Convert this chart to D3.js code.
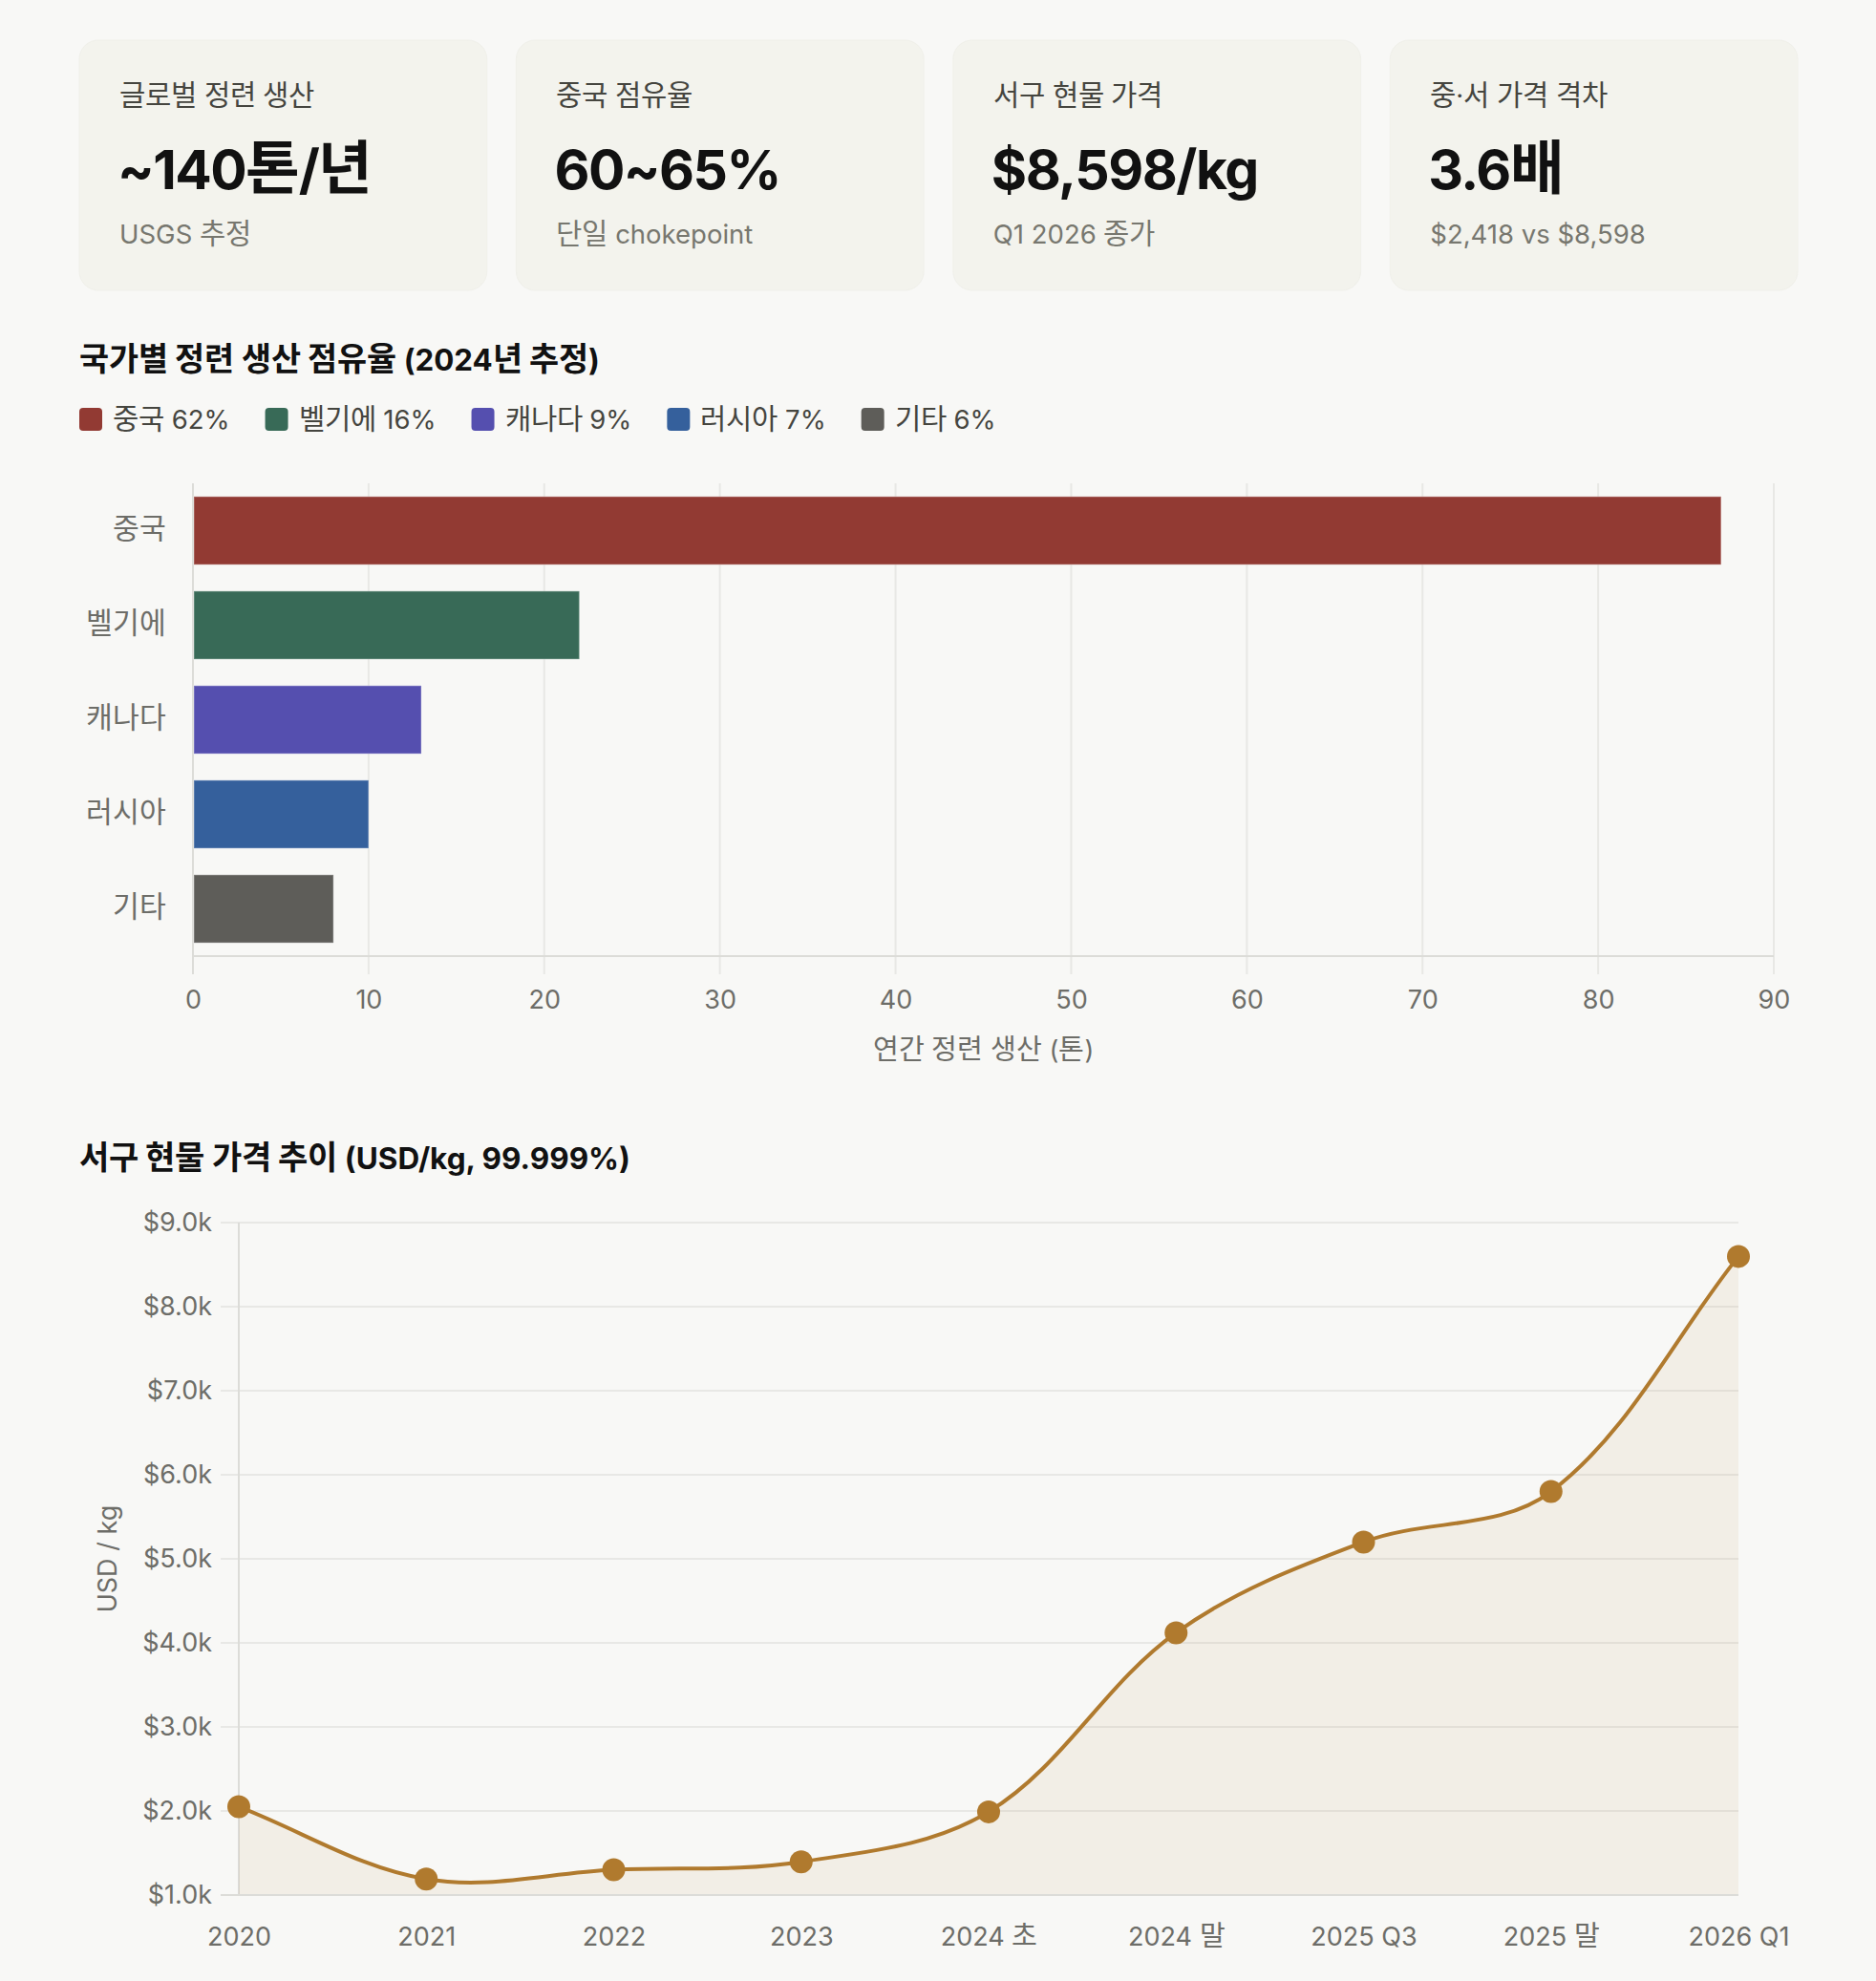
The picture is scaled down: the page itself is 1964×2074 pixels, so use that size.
<!DOCTYPE html>
<html lang="ko">
<head>
<meta charset="utf-8">
<script src="https://cdn.jsdelivr.net/npm/d3@7/dist/d3.min.js"></script>
<style>
  @font-face {
    font-family: "KRX";
    src: local("Noto Sans CJK KR"), local("Noto Sans CJK KR Regular"), local("NotoSansCJKkr-Regular");
    font-weight: 400;
    size-adjust: 108%;
    unicode-range: U+1100-11FF, U+3130-318F, U+AC00-D7AF;
  }
  @font-face {
    font-family: "KRX";
    src: local("Noto Sans CJK KR Bold"), local("NotoSansCJKkr-Bold");
    font-weight: 700;
    size-adjust: 108%;
    unicode-range: U+1100-11FF, U+3130-318F, U+AC00-D7AF;
  }
  html, body { margin: 0; padding: 0; background: #f8f8f6; }
  svg { display: block; }
  text { font-family: Inter, KRX, "Noto Sans CJK KR", "Noto Sans", sans-serif; }
</style>
</head>
<body>
<svg id="chart" width="1964" height="2074"></svg>
<script>
// ---------- DATA ----------
const kpiLabels = ["글로벌 정련 생산", "중국 점유율", "서구 현물 가격", "중·서 가격 격차"];
const kpiValues = ["~140톤/년", "60~65%", "$8,598/kg", "3.6배"];
const kpiSubs   = ["USGS 추정", "단일 chokepoint", "Q1 2026 종가", "$2,418 vs $8,598"];

const countries  = ["중국", "벨기에", "캐나다", "러시아", "기타"];
const production = [87, 22, 13, 10, 8];
const shares     = [62, 16, 9, 7, 6];
const barColors  = ["#923a33", "#386a57", "#554faf", "#35609c", "#5e5d59"];
const barTicks   = [0, 10, 20, 30, 40, 50, 60, 70, 80, 90];

const priceLabels = ["2020", "2021", "2022", "2023", "2024 초", "2024 말", "2025 Q3", "2025 말", "2026 Q1"];
const prices      = [2050, 1190, 1300, 1395, 1990, 4120, 5200, 5800, 8598];
const priceTicks  = [1000, 2000, 3000, 4000, 5000, 6000, 7000, 8000, 9000];

// ---------- SETUP ----------
const FONT = 'Inter, KRX, "Noto Sans CJK KR", sans-serif';
const svg = d3.select("#chart");
svg.append("rect").attr("width", 1964).attr("height", 2074).attr("fill", "#f8f8f6");

const GRID = "#e8e8e5", AXIS = "#dcdcd8", TICK = "#6d6d68";

function draw() {
// ---------- KPI CARDS ----------
const cardX = d3.scaleBand().domain(d3.range(4)).range([83, 1882]).paddingInner(0.067);
const cards = svg.append("g").selectAll("g").data(kpiLabels).join("g")
  .attr("transform", (d, i) => `translate(${cardX(i)},42)`);
cards.append("rect").attr("width", cardX.bandwidth()).attr("height", 262).attr("rx", 20)
  .attr("fill", "#f3f3ed").attr("stroke", "#f0f0ea").attr("stroke-width", 1);
cards.append("text").attr("x", 42).attr("y", 68).attr("font-size", 27.5).attr("fill", "#45453f")
  .text(d => d);
cards.append("text").attr("x", 40).attr("y", 156).attr("font-size", 57).attr("font-weight", 700)
  .attr("fill", "#111").attr("letter-spacing", -1.5).text((d, i) => kpiValues[i]);
cards.append("text").attr("x", 42).attr("y", 213).attr("font-size", 27.5).attr("fill", "#77776f")
  .text((d, i) => kpiSubs[i]);

// ---------- BAR CHART ----------
svg.append("text").attr("x", 83).attr("y", 388).attr("font-size", 31.3).attr("font-weight", 700)
  .attr("fill", "#111").text("국가별 정련 생산 점유율 (2024년 추정)");

// legend
const legend = svg.append("g");
let lx = 83;
countries.forEach((c, i) => {
  const g = legend.append("g").attr("transform", `translate(${lx},0)`);
  g.append("rect").attr("x", 0).attr("y", 427).attr("width", 24).attr("height", 24).attr("rx", 4)
    .attr("fill", barColors[i]);
  const t = g.append("text").attr("x", 35).attr("y", 449).attr("font-size", 27.5).attr("fill", "#45453f")
    .text(`${c} ${shares[i]}%`);
  lx += 35 + t.node().getComputedTextLength() + 37;
});

const bx = d3.scaleLinear().domain([0, 90]).range([202, 1857]);
const by = d3.scaleBand().domain(countries).range([506, 1001]).paddingInner(0.28).paddingOuter(0.14);

const barG = svg.append("g");
barG.append("g").selectAll("line").data(barTicks).join("line")
  .attr("x1", d => bx(d)).attr("x2", d => bx(d)).attr("y1", 506).attr("y2", 1020)
  .attr("stroke", GRID).attr("stroke-width", 2);
barG.append("line").attr("x1", 202).attr("x2", 202).attr("y1", 506).attr("y2", 1020)
  .attr("stroke", AXIS).attr("stroke-width", 2);
barG.append("line").attr("x1", 202).attr("x2", 1857).attr("y1", 1001).attr("y2", 1001)
  .attr("stroke", AXIS).attr("stroke-width", 2);

barG.append("g").selectAll("rect").data(production).join("rect")
  .attr("x", bx(0) + 1).attr("y", (d, i) => by(countries[i]))
  .attr("width", d => bx(d) - bx(0) - 1).attr("height", by.bandwidth())
  .attr("fill", (d, i) => barColors[i])
  .attr("stroke", "rgba(255,255,255,0.25)").attr("stroke-width", 1.5);

const xAxisBar = d3.axisBottom(bx).tickValues(barTicks).tickSize(0).tickPadding(0);
const xg = barG.append("g").attr("transform", "translate(0,1056)").call(xAxisBar);
xg.select(".domain").remove();
xg.selectAll("text").attr("font-size", 27).attr("fill", TICK).attr("dy", 0).style("font-family", FONT);

const yAxisBar = d3.axisLeft(by).tickSize(0).tickPadding(0);
const yg = barG.append("g").attr("transform", "translate(174,0)").call(yAxisBar);
yg.select(".domain").remove();
yg.selectAll("text").attr("font-size", 28).attr("fill", TICK).style("font-family", FONT);

barG.append("text").attr("x", (bx(0) + bx(90)) / 2).attr("y", 1109).attr("text-anchor", "middle")
  .attr("font-size", 27).attr("fill", TICK).text("연간 정련 생산 (톤)");

// ---------- LINE CHART ----------
svg.append("text").attr("x", 83).attr("y", 1224).attr("font-size", 31.5).attr("font-weight", 700)
  .attr("fill", "#111").text("서구 현물 가격 추이 (USD/kg, 99.999%)");

const lx0 = 250, lx1 = 1820, ly0 = 1280, ly1 = 1984;
const px = d3.scalePoint().domain(priceLabels).range([lx0, lx1]);
const py = d3.scaleLinear().domain([1000, 9000]).range([ly1, ly0]);

const lineG = svg.append("g");
lineG.append("g").selectAll("line").data(priceTicks).join("line")
  .attr("x1", 231).attr("x2", lx1).attr("y1", d => py(d)).attr("y2", d => py(d))
  .attr("stroke", d => d === 1000 ? AXIS : GRID).attr("stroke-width", 2);
lineG.append("line").attr("x1", lx0).attr("x2", lx0).attr("y1", ly0).attr("y2", ly1)
  .attr("stroke", AXIS).attr("stroke-width", 2);

// Chart.js-like spline
const pts = prices.map((v, i) => ({ x: px(priceLabels[i]), y: py(v) }));
const tension = 0.35;
const ctrl = pts.map((p, i) => {
  const p0 = pts[i - 1] || p, p2 = pts[i + 1] || p;
  const d01 = Math.hypot(p.x - p0.x, p.y - p0.y), d12 = Math.hypot(p2.x - p.x, p2.y - p.y);
  let s01 = d01 / (d01 + d12), s12 = d12 / (d01 + d12);
  if (!isFinite(s01)) s01 = 0; if (!isFinite(s12)) s12 = 0;
  const fa = tension * s01, fb = tension * s12;
  const clampY = y => Math.max(ly0, Math.min(ly1, y));
  const clampX = x => Math.max(lx0, Math.min(lx1, x));
  return {
    prev: { x: clampX(p.x - fa * (p2.x - p0.x)), y: clampY(p.y - fa * (p2.y - p0.y)) },
    next: { x: clampX(p.x + fb * (p2.x - p0.x)), y: clampY(p.y + fb * (p2.y - p0.y)) }
  };
});
const path = d3.path();
path.moveTo(pts[0].x, pts[0].y);
for (let i = 1; i < pts.length; i++) {
  path.bezierCurveTo(ctrl[i - 1].next.x, ctrl[i - 1].next.y, ctrl[i].prev.x, ctrl[i].prev.y, pts[i].x, pts[i].y);
}
const lineD = path.toString();
const areaD = lineD + `L${pts[pts.length - 1].x},${py(1000)}L${pts[0].x},${py(1000)}Z`;

lineG.append("path").attr("d", areaD).attr("fill", "rgba(176,122,46,0.08)");
lineG.append("line").attr("x1", 231).attr("x2", lx1).attr("y1", py(1000)).attr("y2", py(1000))
  .attr("stroke", AXIS).attr("stroke-width", 2);
lineG.append("path").attr("d", lineD).attr("fill", "none").attr("stroke", "#b07a2e").attr("stroke-width", 4);
lineG.append("g").selectAll("circle").data(prices).join("circle")
  .attr("cx", (d, i) => px(priceLabels[i])).attr("cy", d => py(d)).attr("r", 12)
  .attr("fill", "#b07a2e");

const yAxisLine = d3.axisLeft(py).tickValues(priceTicks).tickSize(0).tickPadding(0)
  .tickFormat(d => "$" + (d / 1000).toFixed(1) + "k");
const ylg = lineG.append("g").attr("transform", "translate(222,0)").call(yAxisLine);
ylg.select(".domain").remove();
ylg.selectAll("text").attr("font-size", 27).attr("fill", TICK).style("font-family", FONT);

const xAxisLine = d3.axisBottom(px).tickSize(0).tickPadding(0);
const xlg = lineG.append("g").attr("transform", "translate(0,2037)").call(xAxisLine);
xlg.select(".domain").remove();
xlg.selectAll("text").attr("font-size", 27).attr("fill", TICK).attr("dy", 0).style("font-family", FONT);

lineG.append("text").attr("transform", `translate(122,${(ly0 + ly1) / 2}) rotate(-90)`)
  .attr("text-anchor", "middle").attr("font-size", 27).attr("fill", TICK).text("USD / kg");
}

if (document.fonts && document.fonts.load) {
  Promise.all([
    document.fonts.load('400 27px KRX', '가'),
    document.fonts.load('700 27px KRX', '가'),
    document.fonts.load('400 27px Inter', 'a'),
    document.fonts.load('700 27px Inter', 'a')
  ]).then(draw, draw);
} else { draw(); }
</script>
</body>
</html>
